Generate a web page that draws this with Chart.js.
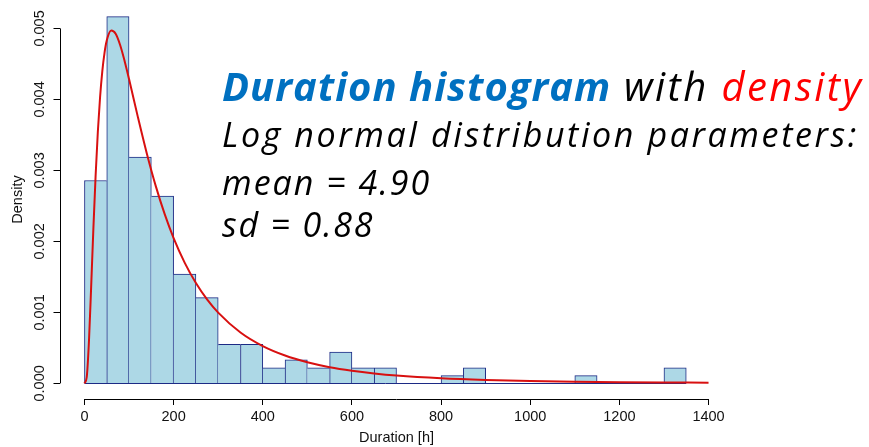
<!DOCTYPE html>
<html>
<head>
<meta charset="utf-8">
<script src="https://cdn.jsdelivr.net/npm/chart.js@4"></script>
<style>
    body { margin: 0; background: #fff; }
    #lienzo { position: relative; width: 869px; height: 447px; }
    .nota {
        position: absolute;
        left: 222px;
        font-family: "Open Sans", sans-serif;
        font-style: italic;
        line-height: 1;
        white-space: nowrap;
        color: #000;
    }
</style>
</head>
<body>
<div id="lienzo">
    <canvas id="grafica" width="869" height="447"></canvas>
    <div class="nota" style="top:66px;font-size:40px;letter-spacing:2.4px"><span style="color:#0070c0;font-weight:bold;letter-spacing:1px">Duration histogram</span> with <span style="color:#ff0000">density</span></div>
    <div class="nota" style="top:117px;font-size:34px;letter-spacing:2.6px">Log normal distribution parameters:</div>
    <div class="nota" style="top:165px;font-size:34px;letter-spacing:2px">mean = 4.90</div>
    <div class="nota" style="top:207px;font-size:34px;letter-spacing:1.8px">sd = 0.88</div>
</div>
<script>
// bins de 50 h (inicio de cada bin)
const inicioBins = [0, 50, 100, 150, 200, 250, 300, 350, 400, 450, 500, 550, 600, 650,
    700, 750, 800, 850, 900, 950, 1000, 1050, 1100, 1150, 1200, 1250, 1300];
const densidades = [0.002857, 0.005165, 0.003187, 0.002637, 0.001538, 0.001209, 0.000549, 0.000549,
    0.000220, 0.000330, 0.000220, 0.000440, 0.000220, 0.000220, 0, 0, 0.000110, 0.000220,
    0, 0, 0, 0, 0.000110, 0, 0, 0, 0.000220];
const anchoBin = 50;

// curva de densidad log normal
const curvaX = [0, 5, 10, 15, 20, 25, 30, 35, 40, 45, 50, 60, 70, 80, 90, 100, 120, 140, 160, 180,
    200, 225, 250, 275, 300, 350, 400, 450, 500, 550, 600, 650, 700, 800, 900, 1000, 1100, 1200, 1300, 1400];
const curvaY = [0, 0.0000834, 0.000582, 0.001359, 0.002180, 0.002924, 0.003544, 0.004030, 0.004396, 0.004656,
    0.004828, 0.004969, 0.004924, 0.004766, 0.004542, 0.004286, 0.003747, 0.003235, 0.002778, 0.002383,
    0.002046, 0.001697, 0.001413, 0.001183, 0.000996, 0.000716, 0.000525, 0.000392, 0.000297, 0.000228,
    0.000178, 0.000140, 0.000111, 0.0000725, 0.0000487, 0.0000336, 0.0000237, 0.0000171, 0.0000125, 0.0000093];

const ticksX = [0, 200, 400, 600, 800, 1000, 1200, 1400];
const ticksY = [0, 0.001, 0.002, 0.003, 0.004, 0.005];

const colorBorde = '#1c2a85';
const fuente = { family: '"Liberation Sans", Arial, sans-serif', size: 14.5 };

// ejes estilo R: linea solo entre el primer y ultimo tick
const ejesR = {
    id: 'ejesR',
    afterDatasetDraw(chart, args) {
        if (args.meta.type !== 'bar') return;
        const ctx = chart.ctx;
        const x = chart.scales.x;
        const y = chart.scales.y;
        const y0 = Math.round(y.getPixelForValue(0)) + 0.5;
        ctx.save();
        ctx.strokeStyle = colorBorde;
        ctx.lineWidth = 1;
        ctx.beginPath();
        ctx.moveTo(x.getPixelForValue(inicioBins[0]), y0);
        ctx.lineTo(x.getPixelForValue(inicioBins[inicioBins.length - 1] + anchoBin), y0);
        ctx.stroke();
        ctx.restore();
    },
    afterDraw(chart) {
        const ctx = chart.ctx;
        const x = chart.scales.x;
        const y = chart.scales.y;
        const area = chart.chartArea;
        ctx.save();
        ctx.strokeStyle = '#000';
        ctx.lineWidth = 1;
        ctx.beginPath();
        const yb = Math.round(area.bottom) + 0.5;
        ctx.moveTo(x.getPixelForValue(ticksX[0]), yb);
        ctx.lineTo(x.getPixelForValue(ticksX[ticksX.length - 1]), yb);
        const xl = Math.round(area.left) + 0.5;
        ctx.moveTo(xl, y.getPixelForValue(ticksY[0]));
        ctx.lineTo(xl, y.getPixelForValue(ticksY[ticksY.length - 1]));
        ctx.stroke();
        ctx.restore();
    }
};

const bordes = (ctx) => {
    const i = ctx.dataIndex;
    const v = densidades[i];
    if (v === 0) return 0;
    const prev = i > 0 ? densidades[i - 1] : 0;
    const next = i < densidades.length - 1 ? densidades[i + 1] : 0;
    return {
        top: 1,
        bottom: 0,
        left: prev <= v ? 1 : 0,
        right: v > next ? 1 : 0
    };
};

const generarGrafica = () => {
    const ctx = document.getElementById('grafica').getContext('2d');
    new Chart(ctx, {
        type: 'bar',
        data: {
            datasets: [{
                type: 'line',
                order: 0,
                data: curvaX.map((x, i) => ({ x: x, y: curvaY[i] })),
                borderColor: '#d81010',
                borderWidth: 2,
                pointRadius: 0,
                cubicInterpolationMode: 'monotone',
                fill: false
            }, {
                type: 'bar',
                order: 1,
                data: inicioBins.map((b, i) => ({ x: b + anchoBin / 2, y: densidades[i] })),
                backgroundColor: '#add8e6',
                borderColor: colorBorde,
                borderWidth: bordes,
                borderSkipped: false,
                barPercentage: 1,
                categoryPercentage: 1
            }]
        },
        options: {
            responsive: false,
            animation: false,
            layout: { padding: { left: 0, top: 0, bottom: 0, right: 135.5 } },
            plugins: {
                legend: { display: false },
                tooltip: { enabled: false }
            },
            scales: {
                x: {
                    type: 'linear',
                    min: -56,
                    max: 1456,
                    offset: false,
                    grid: { offset: false, drawOnChartArea: false, tickLength: 6, color: '#000' },
                    border: { display: false },
                    afterBuildTicks: (scale) => { scale.ticks = ticksX.map(v => ({ value: v })); },
                    afterFit: (scale) => {
                        scale.height = 48;
                        scale.paddingLeft = 0;
                        scale.paddingRight = 0;
                    },
                    ticks: {
                        autoSkip: false,
                        maxRotation: 0,
                        padding: 3,
                        color: '#111',
                        font: fuente,
                        callback: (v) => String(v)
                    },
                    title: {
                        display: true,
                        text: 'Duration [h]',
                        color: '#111',
                        font: fuente,
                        padding: { top: 0, bottom: 0 }
                    }
                },
                y: {
                    min: -0.00022,
                    max: 0.0054,
                    grid: { drawOnChartArea: false, tickLength: 6, color: '#000' },
                    border: { display: false },
                    afterBuildTicks: (scale) => { scale.ticks = ticksY.map(v => ({ value: v })); },
                    afterFit: (scale) => {
                        scale.width = 59.5;
                        scale.paddingTop = 0;
                        scale.paddingBottom = 0;
                    },
                    ticks: {
                        autoSkip: false,
                        minRotation: 90,
                        maxRotation: 90,
                        crossAlign: 'center',
                        padding: -5,
                        color: '#111',
                        font: fuente,
                        callback: (v) => v.toFixed(3)
                    },
                    title: {
                        display: true,
                        text: 'Density',
                        color: '#111',
                        font: fuente,
                        padding: { top: 9, bottom: 0 }
                    }
                }
            }
        },
        plugins: [ejesR]
    });
};

window.onload = function () {
    generarGrafica();
};
</script>
</body>
</html>
